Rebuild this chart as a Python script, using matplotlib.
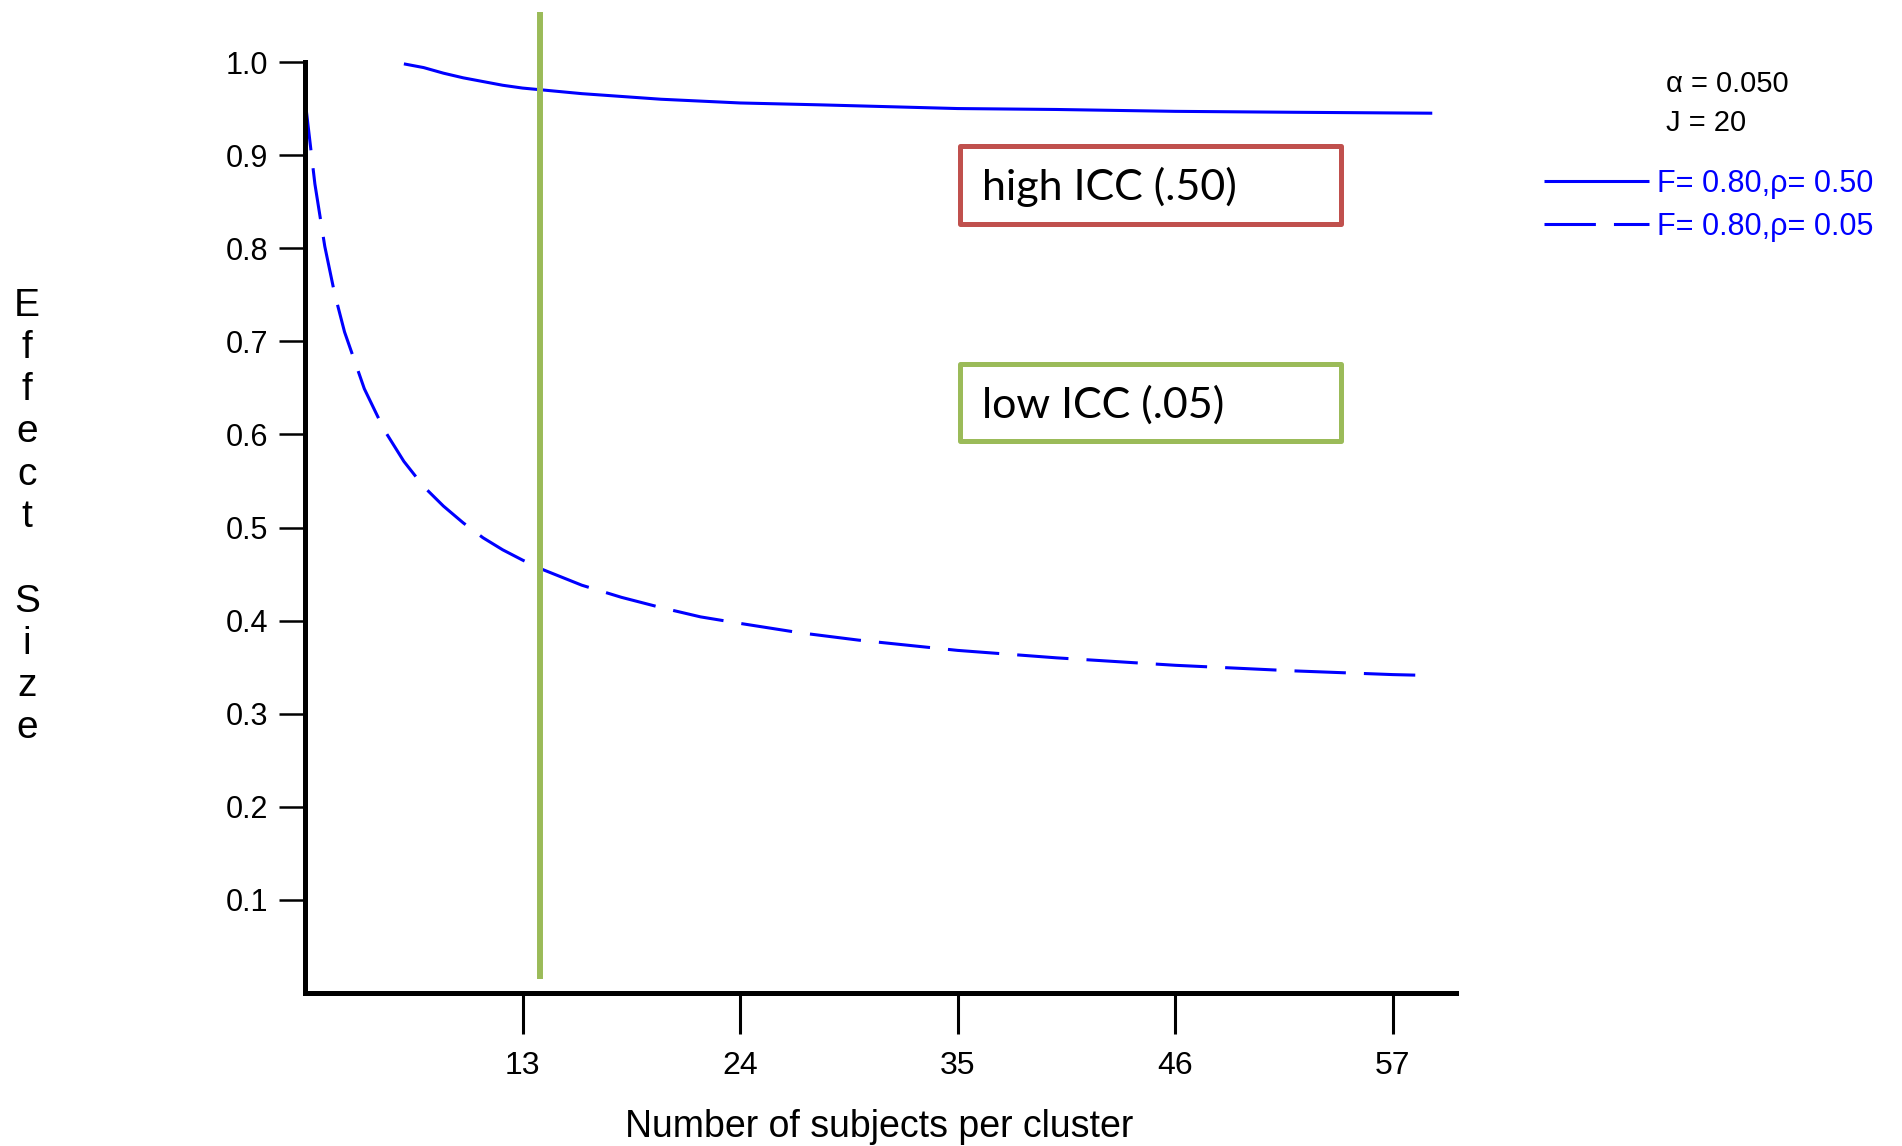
import matplotlib
matplotlib.use('Agg')
import matplotlib.pyplot as plt
from matplotlib.patches import Rectangle

# Effect size (MDES) vs number of subjects per cluster, J = 20, alpha = 0.05
n_low = [2, 2.5, 3, 3.5, 4, 5, 6, 7, 8, 9, 10, 11, 12, 13, 14, 16, 18, 20,
         22, 24, 27, 30, 35, 40, 46, 52, 57, 59]
es_low = [0.960, 0.869, 0.802, 0.751, 0.710, 0.649, 0.605, 0.571, 0.544,
          0.523, 0.505, 0.489, 0.476, 0.465, 0.455, 0.438, 0.425, 0.414,
          0.404, 0.397, 0.387, 0.379, 0.368, 0.360, 0.352, 0.346, 0.342, 0.341]

n_high = [7, 8, 9, 10, 11, 12, 13, 14, 16, 18, 20, 24, 28, 35, 40, 46, 52, 59]
es_high = [0.998, 0.994, 0.988, 0.983, 0.979, 0.975, 0.972, 0.970, 0.966,
           0.963, 0.960, 0.956, 0.954, 0.950, 0.949, 0.947, 0.946, 0.945]

x_ticks = [13, 24, 35, 46, 57]
y_ticks = [0.1, 0.2, 0.3, 0.4, 0.5, 0.6, 0.7, 0.8, 0.9, 1.0]
marker_n = 13.9

label_high = 'F= 0.80,\u03c1= 0.50'
label_low = 'F= 0.80,\u03c1= 0.05'
params_text = ['\u03b1 = 0.050', 'J = 20']
box_texts = ['high ICC (.50)', 'low ICC (.05)']

BLUE = '#0000ff'
RED = '#c0504d'
GREEN = '#9bbb59'

plt.rcParams['font.family'] = ['Liberation Sans', 'DejaVu Sans']
plt.rcParams['lines.scale_dashes'] = False

W, H = 1902, 1146
fig = plt.figure(figsize=(W / 100, H / 100), dpi=100)
ax = fig.add_axes([305 / W, 1 - 993 / H, (1456 - 305) / W, (993 - 62) / H])

# the two curves
line_high, = ax.plot(n_high, es_high, color=BLUE, lw=2.2, solid_capstyle='butt')
line_low, = ax.plot(n_low, es_low, color=BLUE, lw=2.2, dashes=(37, 13))

# vertical marker at ~14 subjects per cluster
ax.vlines(marker_n, 0.015, 1.054, color=GREEN, lw=4.3, clip_on=False)

ax.set_xlim(2, 60.2)
ax.set_ylim(0, 1.0)

for side in ['top', 'right']:
    ax.spines[side].set_visible(False)
for side in ['left', 'bottom']:
    ax.spines[side].set_linewidth(3.6)
    ax.spines[side].set_capstyle('projecting')

ax.set_xticks(x_ticks)
ax.set_xticklabels([str(t) for t in x_ticks])
ax.set_yticks(y_ticks)
ax.set_yticklabels([f'{t:.1f}' for t in y_ticks])
ax.tick_params(axis='x', direction='out', length=29.5, width=2.2, pad=12,
               labelsize=23)
ax.tick_params(axis='y', direction='out', length=18.7, width=1.8, pad=8,
               labelsize=22)

ax.set_xlabel('Number of subjects per cluster', fontsize=27, va='top')
ax.xaxis.set_label_coords(0.4987, -0.1246)

# stacked vertical y label
fig.text(27 / W, 1 - 517 / H, '\n'.join('Effect Size'), ha='center',
         va='center', multialignment='center', fontsize=28, linespacing=1.225)

# legend at right
ax.legend([line_high, line_low], [label_high, label_low], loc='upper left',
          bbox_to_anchor=(1544 / W, 1 - 169 / H), bbox_transform=fig.transFigure,
          frameon=False, fontsize=22, handlelength=3.43, handletextpad=0.26,
          labelspacing=0.415, borderpad=0, borderaxespad=0, labelcolor=BLUE)

fig.text(1666 / W, 1 - 84 / H, params_text[0], ha='left', va='center', fontsize=21)
fig.text(1666 / W, 1 - 123 / H, params_text[1], ha='left', va='center', fontsize=21)

# annotation boxes
for (top, color, text) in [(144, RED, box_texts[0]), (362, GREEN, box_texts[1])]:
    fig.add_artist(Rectangle((960.5 / W, 1 - (top + 79.5) / H), 381 / W, 77 / H,
                             transform=fig.transFigure, fill=False,
                             edgecolor=color, linewidth=3.6, joinstyle='round'))
    fig.text(982 / W, 1 - (top + 56) / H, text, ha='left', va='baseline',
             fontsize=31, family='Lato')

fig.savefig('out.png', dpi=100)
